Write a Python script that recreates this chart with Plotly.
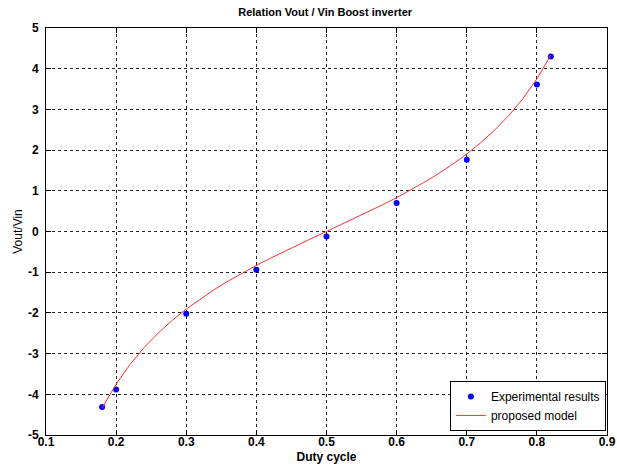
import plotly.graph_objects as go

# Experimental results
exp_duty = [0.18, 0.20, 0.30, 0.40, 0.50, 0.60, 0.70, 0.80, 0.82]
exp_ratio = [-4.31, -3.88, -2.02, -0.94, -0.12, 0.70, 1.76, 3.61, 4.30]

# Proposed model (sampled curve)
model_duty = [0.18, 0.20, 0.22, 0.24, 0.26, 0.28, 0.30, 0.32, 0.34, 0.36, 0.38,
              0.40, 0.42, 0.44, 0.46, 0.48, 0.50, 0.52, 0.54, 0.56, 0.58, 0.60,
              0.62, 0.64, 0.66, 0.68, 0.70, 0.72, 0.74, 0.76, 0.78, 0.80, 0.82]
model_ratio = [-4.336, -3.750, -3.263, -2.851, -2.495, -2.183, -1.905, -1.654,
               -1.426, -1.215, -1.019, -0.833, -0.657, -0.487, -0.322, -0.160,
               0.000, 0.160, 0.322, 0.487, 0.657, 0.833, 1.019, 1.215, 1.426,
               1.654, 1.905, 2.183, 2.495, 2.851, 3.263, 3.750, 4.336]

x_ticks = [0.1, 0.2, 0.3, 0.4, 0.5, 0.6, 0.7, 0.8, 0.9]
y_ticks = [-5, -4, -3, -2, -1, 0, 1, 2, 3, 4, 5]

font_family = "Liberation Sans, Arial, sans-serif"

fig = go.Figure()
fig.add_trace(go.Scatter(
    x=exp_duty, y=exp_ratio, mode="markers", name="Experimental results",
    marker=dict(color="#0000ff", size=6, symbol="circle"),
))
fig.add_trace(go.Scatter(
    x=model_duty, y=model_ratio, mode="lines", name="proposed model",
    line=dict(color="#ff3030", width=1),
))

axis_common = dict(
    showline=True, linecolor="black", linewidth=1, mirror="ticks",
    ticks="inside", ticklen=5, tickcolor="black",
    showgrid=True, gridcolor="#222222", griddash="dot", gridwidth=1,
    zeroline=False, automargin=False,
    tickfont=dict(family=font_family, size=12, color="black", weight="bold"),
)

fig.update_xaxes(
    range=[0.1, 0.9], tickvals=x_ticks, ticktext=[str(v) for v in x_ticks],
    ticklabelstandoff=-4,
    title=dict(text="<b>Duty cycle</b>", standoff=8,
               font=dict(family=font_family, size=12, color="black")),
    **axis_common,
)
fig.update_yaxes(
    range=[-5, 5], tickvals=y_ticks, ticktext=[str(v) for v in y_ticks],
    ticklabelstandoff=4,
    title=dict(text="Vout/Vin", standoff=2,
               font=dict(family=font_family, size=12, color="black")),
    **axis_common,
)

fig.update_layout(
    width=617, height=464,
    margin=dict(l=46, r=10, t=28, b=29, autoexpand=False),
    paper_bgcolor="white", plot_bgcolor="white",
    title=dict(text="<b>Relation Vout / Vin Boost inverter</b>", x=0.527, xref="container",
               y=0.973, yanchor="middle", automargin=False,
               font=dict(family=font_family, size=11, color="black")),
    legend=dict(
        x=0.998, y=0.01, xanchor="right", yanchor="bottom",
        bgcolor="white", bordercolor="black", borderwidth=1,
        font=dict(family=font_family, size=12, color="black"),
        tracegroupgap=0, itemwidth=30,
    ),
    showlegend=True,
)

fig.write_html("out.html",
               config={"displayModeBar": False},
               post_script="document.body.style.margin='0';document.body.style.overflow='hidden';")
